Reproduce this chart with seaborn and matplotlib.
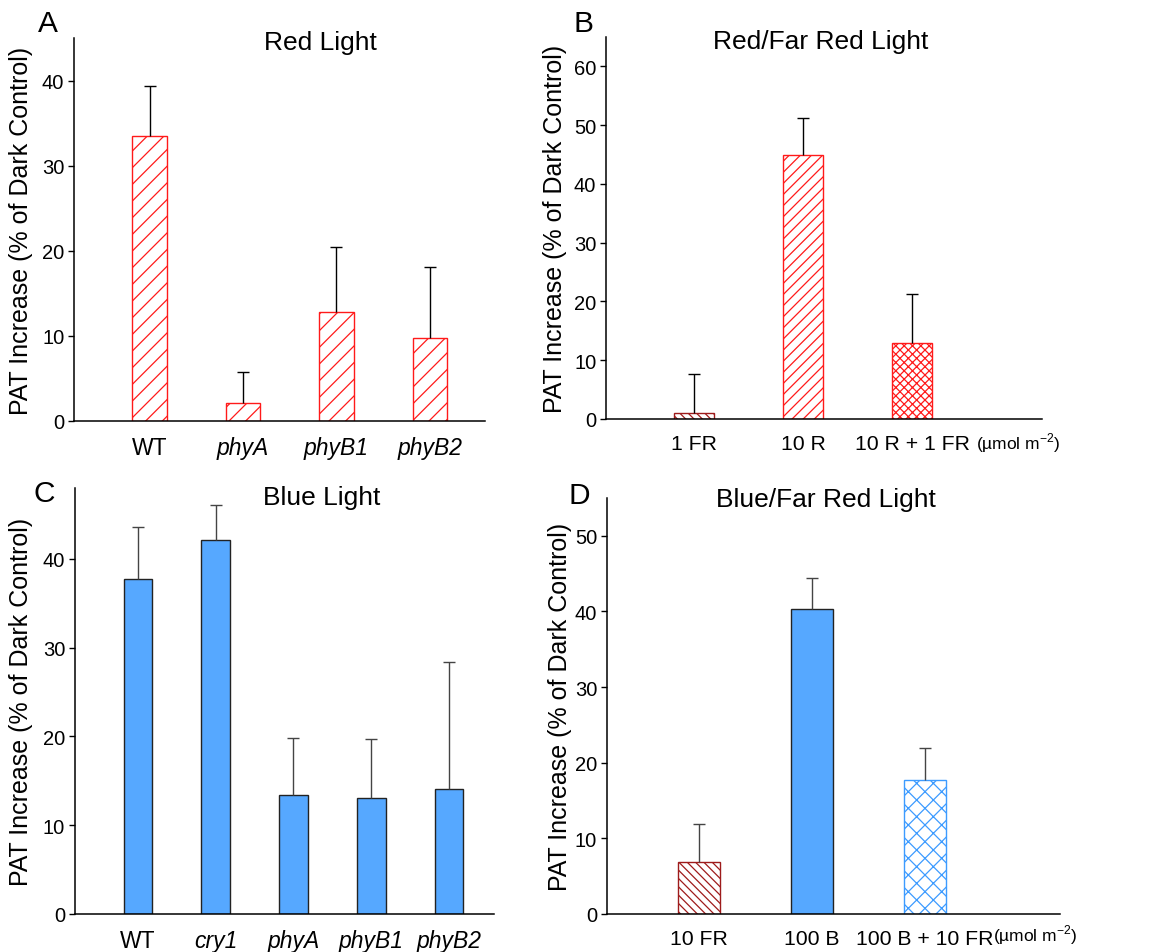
import numpy as np
import pandas as pd
import matplotlib
matplotlib.use("Agg")
import matplotlib.pyplot as plt
import seaborn as sns

# ---------------- data ----------------
a_cats = ["WT", "phyA", "phyB1", "phyB2"]
a_vals = [33.5, 2.15, 12.8, 9.7]
a_errs = [5.8, 3.65, 7.7, 8.4]

b_cats = ["1 FR", "10 R", "10 R + 1 FR"]
b_vals = [1.0, 44.9, 13.0]
b_errs = [6.65, 6.4, 8.2]

c_cats = ["WT", "cry1", "phyA", "phyB1", "phyB2"]
c_vals = [37.7, 42.1, 13.4, 13.05, 14.1]
c_errs = [5.9, 4.0, 6.4, 6.65, 14.25]

d_cats = ["10 FR", "100 B", "100 B + 10 FR"]
d_vals = [6.9, 40.3, 17.7]
d_errs = [4.95, 4.1, 4.2]

titles = ["Red Light", "Red/Far Red Light", "Blue Light", "Blue/Far Red Light"]
letters = ["A", "B", "C", "D"]
ylabel = "PAT Increase (% of Dark Control)"
unit_label = "(\u00b5mol m$^{\\mathregular{-2}}$)"

# ---------------- style ----------------
sns.set_theme(style="ticks")
plt.rcParams["font.family"] = ["Liberation Sans", "DejaVu Sans"]
plt.rcParams["mathtext.fontset"] = "custom"
plt.rcParams["mathtext.rm"] = "Liberation Sans"
plt.rcParams["hatch.linewidth"] = 0.9
plt.rcParams["text.color"] = "black"
plt.rcParams["axes.labelcolor"] = "black"
plt.rcParams["xtick.color"] = "black"
plt.rcParams["ytick.color"] = "black"

RED = "#ff1a1a"
DRED = "#9e1b1b"
BLUE = "#56a8ff"
LBLUE = "#3d9bff"

# (face, edge, hatch)
a_style = [("white", RED, "//")] * 4
b_style = [("white", DRED, "\\\\\\\\"), ("white", RED, "///"), ("white", RED, "xxxx")]
c_style = [(BLUE, "#222222", "")] * 5
d_style = [("white", DRED, "\\\\\\\\"), (BLUE, "#222222", ""), ("white", LBLUE, "xx")]

fig = plt.figure(figsize=(11.55, 9.53), dpi=100)

panels = [
    dict(cats=a_cats, vals=a_vals, errs=a_errs, style=a_style,
         rect=[0.0641, 0.5572, 0.3558, 0.4019], ylim=45, yticks=range(0, 41, 10),
         xlim=(-0.81, 3.59), ecol="black", italic=[False, True, True, True],
         title_xy=(0.60, 0.99), unit=False, label_x=-0.100, xfs=16.5),
    dict(cats=b_cats, vals=b_vals, errs=b_errs, style=b_style,
         rect=[0.5247, 0.5593, 0.3775, 0.4008], ylim=65, yticks=range(0, 61, 10),
         xlim=(-0.81, 3.19), ecol="black", italic=[False] * 3,
         title_xy=(0.492, 0.99), unit=(0.945, -0.060), label_x=-0.089, xfs=15.3),
    dict(cats=c_cats, vals=c_vals, errs=c_errs, style=c_style,
         rect=[0.0649, 0.0399, 0.3628, 0.4470], ylim=48, yticks=range(0, 41, 10),
         xlim=(-0.81, 4.58), ecol="#444444", italic=[False, True, True, True, True],
         title_xy=(0.589, 0.979), unit=False, label_x=-0.100, xfs=16.5),
    dict(cats=d_cats, vals=d_vals, errs=d_errs, style=d_style,
         rect=[0.5255, 0.0399, 0.3922, 0.4365], ylim=55, yticks=range(0, 51, 10),
         xlim=(-0.81, 3.19), ecol="#444444", italic=[False] * 3,
         title_xy=(0.483, 0.998), unit=(0.945, -0.048), label_x=-0.077, xfs=15.3),
]

letter_pos = [(0.0411, 0.9748), (0.5048, 0.9748), (0.0381, 0.4816), (0.5013, 0.4795)]

for i, p in enumerate(panels):
    ax = fig.add_axes(p["rect"])
    df = pd.DataFrame({"cond": p["cats"], "val": p["vals"]})
    faces = [s[0] for s in p["style"]]
    sns.barplot(data=df, x="cond", y="val", hue="cond", palette=faces,
                legend=False, width=0.37, errorbar=None, saturation=1, ax=ax)
    for patch, (fc, ec, h) in zip(ax.patches, p["style"]):
        patch.set_facecolor(fc)
        patch.set_edgecolor(ec)
        patch.set_hatch(h)
        patch.set_linewidth(1.0)
    n = len(p["cats"])
    x = np.arange(n)
    vals = np.array(p["vals"])
    errs = np.array(p["errs"])
    _, caplines, _ = ax.errorbar(x, vals, yerr=[np.zeros(n), errs], fmt="none",
                                 ecolor=p["ecol"], elinewidth=1.0, capsize=4,
                                 capthick=1.0, zorder=1)
    for cl in caplines:
        if np.allclose(cl.get_ydata(), vals):
            cl.set_visible(False)

    ax.set_xlim(*p["xlim"])
    ax.set_ylim(0, p["ylim"])
    ax.set_yticks(list(p["yticks"]))
    ax.set_xlabel("")
    ax.set_ylabel(ylabel, fontsize=18, color="black")
    ax.yaxis.set_label_coords(p["label_x"], 0.5)
    sns.despine(ax=ax)
    for sp in ("left", "bottom"):
        ax.spines[sp].set_color("black")
        ax.spines[sp].set_linewidth(1.1)
    ax.tick_params(axis="y", length=4, width=1, labelsize=14.5, color="black",
                   labelcolor="black", pad=3)
    ax.tick_params(axis="x", length=0, labelsize=p["xfs"], pad=11, labelcolor="black")
    for lab, it in zip(ax.get_xticklabels(), p["italic"]):
        lab.set_fontstyle("italic" if it else "normal")
    ax.text(p["title_xy"][0], p["title_xy"][1], titles[i], transform=ax.transAxes,
            ha="center", va="center", fontsize=19, color="black")
    if p["unit"]:
        ax.text(p["unit"][0], p["unit"][1], unit_label, transform=ax.transAxes,
                ha="center", va="center", fontsize=12.5, color="black")
    fig.text(letter_pos[i][0], letter_pos[i][1], letters[i], ha="center",
             va="center", fontsize=21.5, color="black")

fig.savefig("out.png", dpi=100, facecolor="white")
